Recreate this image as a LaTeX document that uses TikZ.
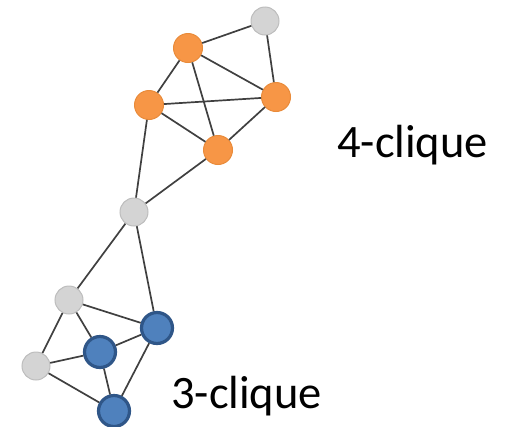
\documentclass[tikz,border=0pt]{standalone}
\usepackage{fontspec}
\setmainfont{Carlito}
\usepackage{xcolor}

\definecolor{cliqueorange}{HTML}{F79646}
\definecolor{orangeline}{HTML}{E98B3A}
\definecolor{vertexgray}{HTML}{D4D4D4}
\definecolor{grayline}{HTML}{BDBDBD}
\definecolor{cliqueblue}{HTML}{4F81BD}
\definecolor{blueline}{HTML}{2F5688}
\definecolor{edgegray}{HTML}{404040}

\tikzset{
    plainv/.style={circle, draw=grayline, fill=vertexgray, minimum size=28pt, inner sep=0pt, line width=1pt},
    fourv/.style={circle, draw=orangeline, fill=cliqueorange, minimum size=29pt, inner sep=0pt, line width=1pt},
    threev/.style={circle, draw=blueline, fill=cliqueblue, minimum size=31pt, inner sep=0pt, line width=3.2pt},
    edge/.style={draw=edgegray, line width=1.7pt},
    cliquelabel/.style={anchor=base west, font=\fontsize{46.5}{52}\selectfont, inner sep=0pt}
}

\begin{document}
\begin{tikzpicture}[x=1pt, y=-1pt]
    \useasboundingbox (0,0) rectangle (508,426);

    % Draw vertices
    \node (t) at (265, 21) [plainv] {};
    \node (a) at (188, 48) [fourv] {};
    \node (b) at (149, 105) [fourv] {};
    \node (c) at (276, 97) [fourv] {};
    \node (d) at (218, 150) [fourv] {};
    \node (m) at (134, 212) [plainv] {};
    \node (u) at (69, 300) [plainv] {};
    \node (e) at (157, 328) [threev] {};
    \node (f) at (100, 352) [threev] {};
    \node (l) at (36, 366) [plainv] {};
    \node (g) at (114, 411) [threev] {};

    % Draw edges
    \draw[edge] (t) -- (a);
    \draw[edge] (t) -- (c);
    \draw[edge] (a) -- (b); % 4-clique
    \draw[edge] (a) -- (c);
    \draw[edge] (a) -- (d);
    \draw[edge] (b) -- (c);
    \draw[edge] (b) -- (d);
    \draw[edge] (c) -- (d);
    \draw[edge] (b) -- (m);
    \draw[edge] (d) -- (m);
    \draw[edge] (m) -- (u);
    \draw[edge] (m) -- (e);
    \draw[edge] (u) -- (e);
    \draw[edge] (u) -- (f);
    \draw[edge] (u) -- (l);
    \draw[edge] (l) -- (f);
    \draw[edge] (l) -- (g);
    \draw[edge] (f) -- (e); % 3-clique
    \draw[edge] (f) -- (g);
    \draw[edge] (e) -- (g);

    % Labels
    \node (four) at (337, 157) [cliquelabel] {4-clique};
    \node (three) at (171, 408) [cliquelabel] {3-clique};
\end{tikzpicture}
\end{document}
